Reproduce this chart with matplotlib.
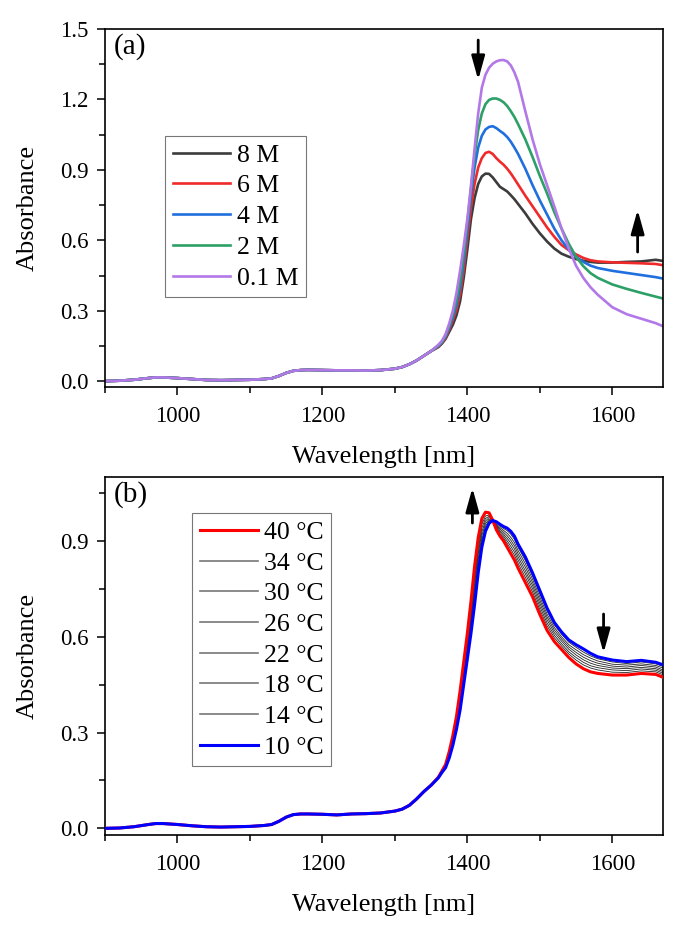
import matplotlib
matplotlib.use('Agg')
import matplotlib.pyplot as plt
from matplotlib.ticker import MultipleLocator
from matplotlib.lines import Line2D

plt.rcParams['font.family'] = ['Liberation Serif', 'DejaVu Serif']

# ---------------- data ----------------
wl_base = [900, 920, 940, 960, 970, 980, 1000, 1020, 1040, 1060, 1080, 1100, 1120, 1130,
           1140, 1150, 1160, 1170, 1180, 1200, 1220, 1240, 1260, 1280, 1300, 1310, 1320,
           1330, 1340, 1350]
wl_peak = [1360, 1365, 1370, 1375, 1380, 1385, 1390, 1395, 1400, 1405, 1410, 1415, 1420,
           1425, 1430, 1435, 1440, 1445, 1450, 1455, 1460, 1465, 1470, 1480, 1490, 1500,
           1510, 1520, 1530, 1540, 1550, 1560, 1570, 1580, 1600, 1620, 1640, 1660, 1670]

base_a = [0.000, 0.002, 0.006, 0.013, 0.016, 0.016, 0.013, 0.009, 0.005, 0.004, 0.005, 0.006,
          0.009, 0.012, 0.022, 0.035, 0.044, 0.047, 0.048, 0.047, 0.046, 0.046, 0.045, 0.047,
          0.053, 0.060, 0.072, 0.088, 0.108, 0.128]
base_b = [0.000, 0.001, 0.005, 0.012, 0.015, 0.015, 0.012, 0.008, 0.005, 0.004, 0.005, 0.006,
          0.009, 0.012, 0.022, 0.035, 0.043, 0.045, 0.045, 0.044, 0.042, 0.045, 0.046, 0.048,
          0.054, 0.060, 0.072, 0.092, 0.115, 0.135]

# panel (a): concentration series (peak region)
abs_8M = [0.145, 0.160, 0.180, 0.210, 0.240, 0.280, 0.340, 0.440, 0.560, 0.690, 0.780, 0.840,
          0.872, 0.884, 0.883, 0.868, 0.848, 0.828, 0.818, 0.808, 0.792, 0.775, 0.755, 0.715,
          0.670, 0.630, 0.595, 0.565, 0.543, 0.530, 0.520, 0.513, 0.508, 0.505, 0.505, 0.508,
          0.510, 0.517, 0.512]
abs_6M = [0.148, 0.163, 0.185, 0.220, 0.260, 0.305, 0.370, 0.475, 0.610, 0.740, 0.840, 0.910,
          0.950, 0.972, 0.977, 0.968, 0.950, 0.935, 0.922, 0.905, 0.885, 0.862, 0.838, 0.790,
          0.745, 0.700, 0.655, 0.615, 0.580, 0.558, 0.540, 0.525, 0.515, 0.510, 0.506, 0.504,
          0.502, 0.499, 0.494]
abs_4M = [0.150, 0.165, 0.190, 0.228, 0.272, 0.325, 0.400, 0.510, 0.645, 0.790, 0.910, 0.995,
          1.045, 1.072, 1.083, 1.086, 1.078, 1.066, 1.055, 1.040, 1.020, 0.995, 0.968, 0.905,
          0.835, 0.770, 0.710, 0.650, 0.600, 0.560, 0.530, 0.508, 0.492, 0.482, 0.470, 0.461,
          0.452, 0.443, 0.437]
abs_2M = [0.152, 0.168, 0.195, 0.236, 0.285, 0.345, 0.425, 0.540, 0.675, 0.820, 0.960, 1.070,
          1.140, 1.180, 1.198, 1.204, 1.204, 1.198, 1.188, 1.172, 1.150, 1.125, 1.095, 1.030,
          0.955, 0.875, 0.800, 0.720, 0.650, 0.585, 0.530, 0.490, 0.460, 0.440, 0.412, 0.393,
          0.376, 0.360, 0.352]
abs_01M = [0.155, 0.172, 0.200, 0.245, 0.300, 0.375, 0.470, 0.575, 0.690, 0.830, 0.990, 1.140,
           1.250, 1.305, 1.335, 1.352, 1.362, 1.367, 1.368, 1.362, 1.345, 1.315, 1.275, 1.150,
           1.030, 0.925, 0.835, 0.745, 0.650, 0.565, 0.492, 0.440, 0.400, 0.368, 0.315, 0.285,
           0.266, 0.247, 0.234]

conc_labels = ['8 M', '6 M', '4 M', '2 M', '0.1 M']
conc_colors = ['#3c3c3c', '#f02a2a', '#1f6fde', '#2ca066', '#b378e8']

# panel (b): temperature series (peak region)
abs_40C = [0.160, 0.180, 0.200, 0.240, 0.290, 0.350, 0.430, 0.520, 0.610, 0.710, 0.820, 0.910,
           0.970, 0.990, 0.988, 0.965, 0.935, 0.915, 0.900, 0.880, 0.860, 0.840, 0.815, 0.770,
           0.725, 0.670, 0.620, 0.585, 0.560, 0.535, 0.515, 0.500, 0.490, 0.485, 0.480, 0.480,
           0.485, 0.482, 0.473]
abs_34C = [0.160, 0.179, 0.198, 0.236, 0.284, 0.342, 0.418, 0.506, 0.594, 0.690, 0.796, 0.888,
           0.952, 0.978, 0.981, 0.965, 0.940, 0.922, 0.909, 0.892, 0.874, 0.855, 0.830, 0.786,
           0.740, 0.685, 0.634, 0.597, 0.571, 0.546, 0.527, 0.512, 0.502, 0.496, 0.489, 0.488,
           0.493, 0.490, 0.481]
abs_30C = [0.159, 0.178, 0.197, 0.233, 0.280, 0.337, 0.410, 0.497, 0.583, 0.677, 0.780, 0.873,
           0.940, 0.970, 0.977, 0.965, 0.943, 0.927, 0.915, 0.900, 0.883, 0.865, 0.840, 0.797,
           0.750, 0.695, 0.643, 0.605, 0.578, 0.553, 0.535, 0.520, 0.509, 0.503, 0.496, 0.494,
           0.499, 0.495, 0.486]
abs_26C = [0.159, 0.178, 0.195, 0.231, 0.276, 0.331, 0.402, 0.487, 0.573, 0.663, 0.764, 0.859,
           0.928, 0.962, 0.973, 0.965, 0.947, 0.932, 0.921, 0.908, 0.893, 0.875, 0.850, 0.807,
           0.760, 0.705, 0.653, 0.613, 0.586, 0.561, 0.543, 0.528, 0.517, 0.510, 0.502, 0.500,
           0.504, 0.500, 0.491]
abs_22C = [0.159, 0.177, 0.194, 0.228, 0.272, 0.326, 0.394, 0.478, 0.562, 0.650, 0.748, 0.844,
           0.916, 0.954, 0.968, 0.964, 0.950, 0.937, 0.927, 0.916, 0.902, 0.885, 0.860, 0.818,
           0.770, 0.715, 0.662, 0.621, 0.593, 0.568, 0.551, 0.536, 0.525, 0.517, 0.508, 0.505,
           0.510, 0.505, 0.496]
abs_18C = [0.158, 0.176, 0.193, 0.225, 0.268, 0.321, 0.386, 0.469, 0.551, 0.637, 0.732, 0.829,
           0.904, 0.946, 0.964, 0.964, 0.953, 0.942, 0.933, 0.924, 0.911, 0.895, 0.870, 0.829,
           0.780, 0.725, 0.671, 0.629, 0.600, 0.575, 0.559, 0.544, 0.533, 0.524, 0.514, 0.511,
           0.515, 0.510, 0.502]
abs_14C = [0.158, 0.176, 0.191, 0.223, 0.264, 0.315, 0.378, 0.459, 0.541, 0.623, 0.716, 0.815,
           0.892, 0.938, 0.959, 0.964, 0.957, 0.947, 0.939, 0.932, 0.921, 0.905, 0.880, 0.839,
           0.790, 0.735, 0.681, 0.637, 0.608, 0.583, 0.567, 0.552, 0.540, 0.531, 0.521, 0.516,
           0.521, 0.515, 0.507]
abs_10C = [0.158, 0.175, 0.190, 0.220, 0.260, 0.310, 0.370, 0.450, 0.530, 0.610, 0.700, 0.800,
           0.880, 0.930, 0.955, 0.964, 0.960, 0.952, 0.945, 0.940, 0.930, 0.915, 0.890, 0.850,
           0.800, 0.745, 0.690, 0.645, 0.615, 0.590, 0.575, 0.562, 0.548, 0.537, 0.527, 0.522,
           0.526, 0.520, 0.512]

temp_labels = ['40 °C', '34 °C', '30 °C', '26 °C', '22 °C', '18 °C', '14 °C', '10 °C']

# arrows (x, tail y, tip y)
arrows_a = [(1415, 1.453, 1.283), (1635, 0.55, 0.73)]
arrows_b = [(1407, 0.956, 1.066), (1588, 0.671, 0.549)]

# ---------------- plotting ----------------
fig = plt.figure(figsize=(6.83, 9.27), dpi=100)
ax1 = fig.add_axes([0.1537, 0.5825, 0.817, 0.3862])
ax2 = fig.add_axes([0.1537, 0.0992, 0.817, 0.3862])

wl_all = wl_base + wl_peak
for vals, lab, col in zip([abs_8M, abs_6M, abs_4M, abs_2M, abs_01M], conc_labels, conc_colors):
    ax1.plot(wl_all, base_a + vals, color=col, lw=1.9, label=lab)

temp_series = [abs_40C, abs_34C, abs_30C, abs_26C, abs_22C, abs_18C, abs_14C, abs_10C]
handles_b = []
for i, (vals, lab) in enumerate(zip(temp_series, temp_labels)):
    if i == 0:
        kw = dict(color='#ff0000', lw=2.2, zorder=3)
        hk = dict(color='#ff0000', lw=2.2)
    elif i == len(temp_series) - 1:
        kw = dict(color='#0000ff', lw=2.2, zorder=4)
        hk = dict(color='#0000ff', lw=2.2)
    else:
        kw = dict(color='#222222', lw=0.6, zorder=2)
        hk = dict(color='#777777', lw=1.2)
    ax2.plot(wl_all, base_b + vals, **kw)
    handles_b.append(Line2D([], [], label=lab, **hk))

for ax, lim, arrows, tag in [(ax1, (-0.025, 1.5), arrows_a, '(a)'),
                             (ax2, (-0.021, 1.1), arrows_b, '(b)')]:
    ax.set_xlim(900, 1670)
    ax.set_ylim(*lim)
    ax.xaxis.set_major_locator(MultipleLocator(200))
    ax.xaxis.set_minor_locator(MultipleLocator(100))
    ax.yaxis.set_major_locator(MultipleLocator(0.3))
    ax.yaxis.set_minor_locator(MultipleLocator(0.15))
    ax.yaxis.set_major_formatter(plt.FuncFormatter(lambda v, p: f'{v:.1f}'))
    ax.tick_params(which='major', direction='out', length=6, width=1.1, labelsize=16.5)
    ax.tick_params(axis='x', which='major', pad=8)
    ax.tick_params(axis='y', which='major', pad=6)
    ax.tick_params(which='minor', direction='out', length=4, width=1.1)
    ax.tick_params(top=False, right=False)
    for s in ax.spines.values():
        s.set_linewidth(1.2)
    ax.set_xlabel('Wavelength [nm]', fontsize=19, labelpad=13)
    ax.set_ylabel('Absorbance', fontsize=19, labelpad=15)
    ax.text(0.016, 0.95, tag, transform=ax.transAxes, fontsize=21, va='center', ha='left')
    for x, y0, y1 in arrows:
        ax.annotate('', xy=(x, y1), xytext=(x, y0),
                    arrowprops=dict(arrowstyle='-|>,head_length=0.9,head_width=0.25',
                                    mutation_scale=16, lw=2, color='black',
                                    shrinkA=0, shrinkB=0))

leg_kw = dict(loc='upper left', borderaxespad=0, fontsize=18.5, handlelength=2.25,
              labelspacing=0.3, handletextpad=0.25, fancybox=False, edgecolor='#555555',
              borderpad=0.3)
leg1 = ax1.legend(bbox_to_anchor=(0.1075, 0.701), **leg_kw)
leg1.get_frame().set_linewidth(0.8)
leg2 = ax2.legend(handles=handles_b, bbox_to_anchor=(0.156, 0.899), **leg_kw)
leg2.get_frame().set_linewidth(0.8)

fig.savefig('out.png', dpi=100)
